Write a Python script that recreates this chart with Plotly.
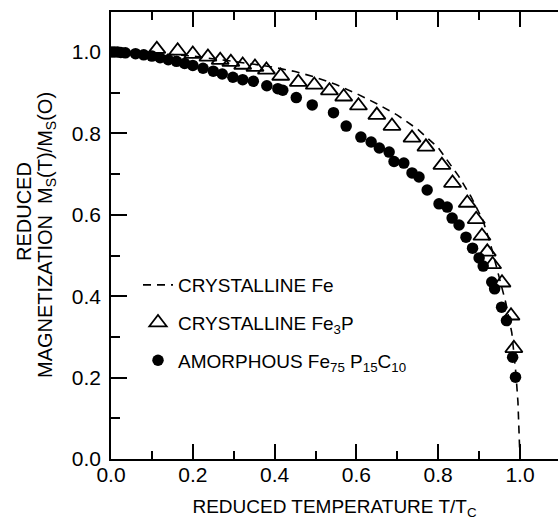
import plotly.graph_objects as go

# Crystalline Fe (dashed curve)
fe_t = [0.0, 0.1, 0.2, 0.3, 0.35, 0.4, 0.45, 0.5, 0.55, 0.6, 0.65, 0.7, 0.75, 0.8,
        0.85, 0.88, 0.91, 0.93, 0.95, 0.965, 0.98, 0.99, 0.995, 1.0]
fe_m = [1.0, 0.997, 0.99, 0.977, 0.97, 0.962, 0.952, 0.938, 0.92, 0.898, 0.873, 0.845, 0.81, 0.765,
        0.695, 0.645, 0.585, 0.52, 0.445, 0.385, 0.31, 0.21, 0.14, 0.0]

# Crystalline Fe3P (open triangles)
fe3p_t = [0.112, 0.163, 0.200, 0.237, 0.267, 0.293, 0.322, 0.352, 0.380, 0.415, 0.458, 0.497,
          0.534, 0.569, 0.605, 0.650, 0.687, 0.736, 0.770, 0.809, 0.835, 0.871, 0.893, 0.907,
          0.920, 0.933, 0.956, 0.978, 0.985]
fe3p_m = [1.007, 1.003, 0.995, 0.988, 0.980, 0.975, 0.968, 0.963, 0.956, 0.941, 0.926, 0.919,
          0.905, 0.890, 0.868, 0.845, 0.818, 0.789, 0.767, 0.722, 0.678, 0.629, 0.589, 0.548,
          0.509, 0.478, 0.433, 0.352, 0.272]

# Amorphous Fe75P15C10 (filled circles)
amo_t = [0.0, 0.008, 0.016, 0.024, 0.035, 0.06, 0.08, 0.10, 0.12, 0.14, 0.16, 0.18, 0.20, 0.225,
         0.25, 0.272, 0.298, 0.322, 0.348, 0.381, 0.408, 0.42, 0.453, 0.492, 0.544, 0.575, 0.611,
         0.636, 0.656, 0.68, 0.692, 0.716, 0.736, 0.753, 0.773, 0.802, 0.822, 0.834, 0.851, 0.868,
         0.884, 0.90, 0.91, 0.931, 0.938, 0.955, 0.967, 0.982, 0.989]
amo_m = [1.0, 1.0, 1.0, 0.999, 0.998, 0.996, 0.993, 0.99, 0.986, 0.981, 0.977, 0.972, 0.967, 0.96,
         0.953, 0.946, 0.938, 0.932, 0.928, 0.917, 0.91, 0.906, 0.888, 0.87, 0.851, 0.818, 0.791,
         0.779, 0.764, 0.754, 0.731, 0.727, 0.703, 0.693, 0.661, 0.627, 0.619, 0.592, 0.575, 0.545,
         0.518, 0.494, 0.474, 0.435, 0.418, 0.373, 0.34, 0.25, 0.201]

x_ticks = [0.0, 0.2, 0.4, 0.6, 0.8, 1.0]
x_ticklabels = ["0.0", "0.2", "0.4", "0.6", "0.8", "1.0"]
y_ticks = [0.0, 0.2, 0.4, 0.6, 0.8, 1.0]
y_ticklabels = ["0.0", "0.2", "0.4", "0.6", "0.8", "1.0"]

FONT = "Liberation Sans, Arial, sans-serif"

fig = go.Figure()
fig.add_trace(go.Scatter(x=fe_t, y=fe_m, mode="lines", name="CRYSTALLINE Fe",
                         line=dict(color="black", width=1.6, dash="8px,6px"),
                         legendgroup="a"))
fig.add_trace(go.Scatter(x=fe3p_t, y=fe3p_m, mode="markers", name="CRYSTALLINE Fe<sub>3</sub>P",
                         marker=dict(symbol="triangle-up-open", size=15, color="black",
                                     line=dict(width=1.8, color="black")),
                         legendgroup="b"))
fig.add_trace(go.Scatter(x=amo_t, y=amo_m, mode="markers",
                         name="AMORPHOUS Fe<sub>75</sub> P<sub>15</sub>C<sub>10</sub>",
                         marker=dict(symbol="circle", size=11.5, color="black"),
                         legendgroup="c"))

L, R, T, B = 111, 0, 12, 62
W, H = 558, 521
pw = W - L - R
ph = H - T - B

def px(xp):
    return (xp - L) / pw

def py(yp):
    return (H - B - yp) / ph

fig.update_layout(
    width=W, height=H,
    margin=dict(l=L, r=R, t=T, b=B, pad=0),
    paper_bgcolor="white", plot_bgcolor="white",
    font=dict(family=FONT, color="black", size=19),
    showlegend=True,
    legend=dict(x=px(138), y=py(266), xanchor="left", yanchor="top",
                bgcolor="rgba(0,0,0,0)", borderwidth=0,
                font=dict(size=19, family=FONT, color="black"),
                traceorder="grouped", tracegroupgap=10),
    xaxis=dict(range=[0, pw / 409.0], showgrid=False, zeroline=False,
               showline=True, linecolor="black", linewidth=1.5, mirror="ticks",
               ticks="inside", ticklen=15, tickwidth=1.5, tickcolor="black",
               tickvals=x_ticks, ticktext=x_ticklabels,
               tickfont=dict(size=21, family=FONT), ticklabelstandoff=-4,
               minor=dict(ticks="inside", ticklen=8, tickwidth=1.5, tickcolor="black", dtick=0.1,
                          showgrid=False),
               title=dict(text="REDUCED TEMPERATURE T/T<sub>C</sub>", font=dict(size=19, family=FONT),
                          standoff=15)),
    yaxis=dict(range=[0, ph / 407.0], showgrid=False, zeroline=False,
               showline=True, linecolor="black", linewidth=1.5,
               ticks="inside", ticklen=16, tickwidth=1.5, tickcolor="black",
               tickvals=y_ticks, ticktext=y_ticklabels,
               tickfont=dict(size=21, family=FONT), ticklabelstandoff=4,
               minor=dict(ticks="inside", ticklen=9, tickwidth=1.5, tickcolor="black", dtick=0.1,
                          showgrid=False)),
    yaxis2=dict(range=[0, ph / 407.0], overlaying="y", side="right", anchor="x",
                showgrid=False, zeroline=False, showline=False, showticklabels=False,
                ticks="inside", ticklen=12, tickwidth=1.5, tickcolor="black",
                tickvals=y_ticks,
                minor=dict(ticks="inside", ticklen=6, tickwidth=1.5, tickcolor="black", dtick=0.1,
                           showgrid=False)),
)

fig.add_annotation(text="REDUCED", xref="paper", yref="paper", x=px(24), y=py(212),
                   xanchor="center", yanchor="middle", textangle=-90, showarrow=False,
                   font=dict(size=20, family=FONT))
fig.add_annotation(text="MAGNETIZATION  M<sub>S</sub>(T)/M<sub>S</sub>(O)", xref="paper", yref="paper",
                   x=px(46), y=py(235), xanchor="center", yanchor="middle", textangle=-90,
                   showarrow=False, font=dict(size=20, family=FONT))

fig.write_html("out.html")
